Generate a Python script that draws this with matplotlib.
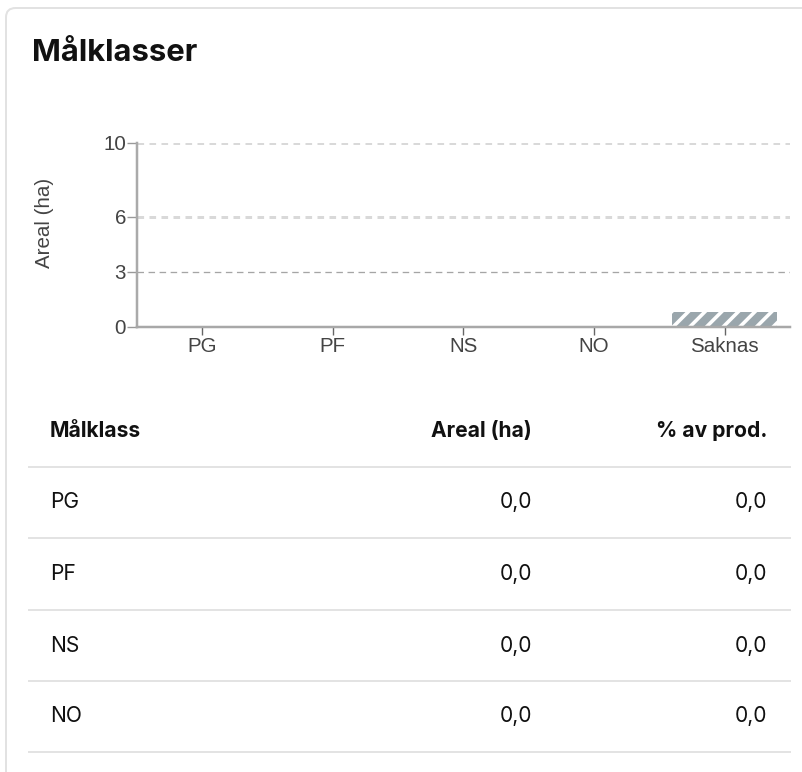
import matplotlib
matplotlib.use("Agg")
import matplotlib.pyplot as plt
from matplotlib.patches import FancyBboxPatch
from matplotlib.lines import Line2D

categories = ["PG", "PF", "NS", "NO", "Saknas"]
values = [0.0, 0.0, 0.0, 0.0, 0.8]
yticks = [0, 3, 6, 10]
table_header = ["Målklass", "Areal (ha)", "% av prod."]
table_classes = ["PG", "PF", "NS", "NO"]
table_areal = ["0,0", "0,0", "0,0", "0,0"]
table_pct = ["0,0", "0,0", "0,0", "0,0"]

W, H = 803, 772
PT = 72 / 100  # points per pixel
plt.rcParams["hatch.linewidth"] = 3.6 * PT

fig = plt.figure(figsize=(W / 100, H / 100), dpi=100)
fig.patch.set_facecolor("white")

def px(x, y):
    return x / W, 1 - y / H

# card border
card = FancyBboxPatch(px(6, 900), (900 - 6) / W, (900 - 8) / H,
                      boxstyle="round,pad=0,rounding_size=0.012",
                      transform=fig.transFigure, facecolor="none",
                      edgecolor="#e2e2e2", linewidth=2 * PT, zorder=-5)
fig.patches.append(card)

# title
fig.text(*px(32, 53), "Målklasser", family=["Inter", "DejaVu Sans"],
         fontweight="bold", fontsize=31 * PT, color="#111111",
         ha="left", va="center")

# chart axes
x0, x1, ytop, ybot = 137, 790, 143, 327
ax = fig.add_axes([x0 / W, 1 - ybot / H, (x1 - x0) / W, (ybot - ytop) / H])
ax.set_xlim(-0.5, len(categories) - 0.5)
ax.set_ylim(0, 10)
ax.set_facecolor("none")

for s in ["top", "right"]:
    ax.spines[s].set_visible(False)
ax.spines["left"].set_color("#aaaaaa")
ax.spines["left"].set_linewidth(2.5 * PT)
ax.spines["bottom"].set_color("#a8a8a8")
ax.spines["bottom"].set_linewidth(2.5 * PT)
ax.spines["bottom"].set_zorder(4)

# grid lines
for t in yticks[1:]:
    if t == 3:
        ax.axhline(t, color="#a5a5a5", lw=1.3 * PT, dashes=(5, 3.5), zorder=1)
    else:
        ax.axhline(t, color="#d9d9d9", lw=3 * PT, dashes=(2.2, 1.8), zorder=1)

bars = ax.bar(range(len(categories)), values, width=0.8,
              color="#9aa6ac", edgecolor="white", hatch="//", linewidth=0,
              zorder=3)

ax.set_xticks(range(len(categories)))
ax.set_xticklabels(categories)
ax.set_yticks(yticks)
ax.set_yticklabels([str(t) for t in yticks])
ax.tick_params(axis="y", length=7, width=1, color="#999999", pad=1,
               labelsize=20.5 * PT, labelcolor="#444444")
ax.tick_params(axis="x", length=6, width=1, color="#666666", pad=1,
               labelsize=20.5 * PT, labelcolor="#444444")
for lab in ax.get_xticklabels() + ax.get_yticklabels():
    lab.set_family(["Liberation Sans", "DejaVu Sans"])

fig.text(*px(45, 223), "Areal (ha)", family=["Liberation Sans", "DejaVu Sans"],
         fontsize=20.5 * PT, color="#444444", rotation=90,
         ha="center", va="center")

# table
tf = ["Inter", "DejaVu Sans"]
fs = 21 * PT
hy = 431
fig.text(*px(50, hy), table_header[0], family=tf, fontweight="bold",
         fontsize=fs, color="#111111", ha="left", va="center")
fig.text(*px(532, hy), table_header[1], family=tf, fontweight="bold",
         fontsize=fs, color="#111111", ha="right", va="center")
fig.text(*px(767, hy), table_header[2], family=tf, fontweight="bold",
         fontsize=fs, color="#111111", ha="right", va="center")

line_ys = [467, 538, 610, 681, 752]
for ly in line_ys:
    fig.add_artist(Line2D([29 / W, 790 / W], [1 - ly / H, 1 - ly / H],
                          transform=fig.transFigure, color="#e3e3e3",
                          lw=2 * PT))

for i, (c, a, p) in enumerate(zip(table_classes, table_areal, table_pct)):
    cy = (line_ys[i] + line_ys[i + 1]) / 2
    fig.text(*px(50, cy), c, family=tf, fontsize=fs, color="#111111",
             ha="left", va="center")
    fig.text(*px(532, cy), a, family=tf, fontsize=fs, color="#111111",
             ha="right", va="center")
    fig.text(*px(767, cy), p, family=tf, fontsize=fs, color="#111111",
             ha="right", va="center")

fig.savefig("out.png", dpi=100, facecolor="white")
